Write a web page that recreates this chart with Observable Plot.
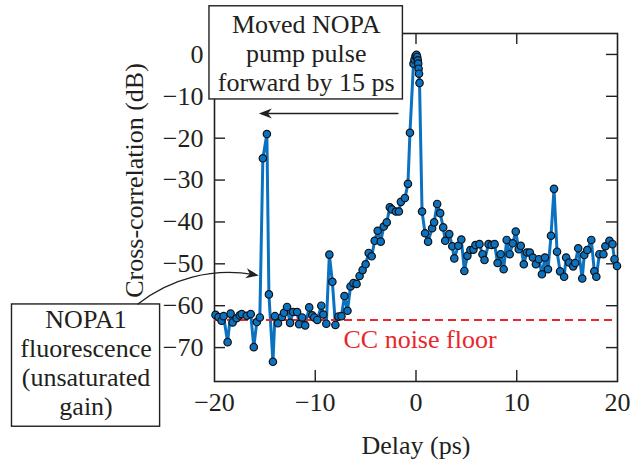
<!DOCTYPE html>
<html><head><meta charset="utf-8">
<script src="https://cdn.jsdelivr.net/npm/d3@7"></script>
<script src="https://cdn.jsdelivr.net/npm/@observablehq/plot@0.6"></script>
<style>body{margin:0;background:#fff} svg{display:block}</style>
</head><body><div id="chart"></div>
<script>
// ---- data ----
const delay = [
  -19.9,-19.6,-19.3,-19.1,-18.7,-18.4,-18.2,-17.8,-17.5,-17.3,-16.8,-16.4,-16.1,-15.8,-15.5,
  -15.2,-14.8,-14.6,-14.2,-14.0,-13.7,-13.3,-13.1,-12.8,-12.5,-12.2,-11.8,-11.6,-11.3,-11.0,
  -10.6,-10.3,-10.1,-9.8,-9.4,-9.2,-8.9,-8.6,-8.3,-8.0,-7.7,-7.4,-7.1,-6.8,-6.5,-6.2,-5.9,
  -5.6,-5.3,-5.0,-4.7,-4.4,-4.1,-3.8,-3.5,-3.2,-2.9,-2.6,-2.4,-2.0,-1.7,-1.5,-1.1,-0.8,-0.6,
  -0.25,-0.15,-0.05,0.05,0.12,0.18,0.22,0.26,0.3,0.35,
  0.6,0.9,1.2,1.6,1.8,2.1,2.4,2.7,2.9,3.3,3.6,3.8,4.2,4.5,4.8,5.1,5.4,5.7,5.9,6.3,6.6,6.8,
  7.2,7.5,7.8,8.1,8.4,8.7,9.0,9.3,9.6,9.9,10.2,10.4,10.7,11.0,11.3,11.6,11.9,12.2,12.5,12.8,
  13.1,13.4,13.7,14.0,14.3,14.7,14.9,15.2,15.6,15.8,16.1,16.5,16.7,17.0,17.4,17.7,17.9,18.2,
  18.6,18.8,19.2,19.5,19.7,19.95
];
const crossCorr = [
  -62.2,-62.7,-63.6,-62.5,-68.7,-61.9,-64.0,-63.0,-62.3,-62.0,-62.4,-62.0,-69.9,-63.9,-62.8,
  -24.8,-19.0,-57.3,-73.4,-62.5,-64.2,-62.7,-61.7,-60.3,-64.1,-61.5,-61.5,-64.4,-62.8,-64.7,
  -60.4,-62.3,-62.8,-63.4,-60.0,-62.1,-64.3,-47.8,-54.3,-64.6,-62.6,-62.5,-57.7,-61.2,-55.4,-54.6,-54.8,
  -52.9,-51.5,-50.1,-47.4,-48.2,-44.5,-42.1,-44.7,-41.1,-40.1,-36.5,-37.0,-37.5,-37.5,-35.2,-34.3,-30.9,-18.7,
  -2.2,-1.2,-0.4,-0.1,-0.6,-1.4,-2.2,-3.4,-4.6,-6.8,
  -37.5,-42.7,-44.7,-41.5,-40.1,-35.7,-37.9,-41.3,-44.5,-42.9,-45.8,-48.7,-45.7,-44.2,-51.7,-48.1,-46.7,-46.6,-45.5,-45.3,-47.7,-49.1,
  -45.3,-45.5,-45.3,-49.8,-47.7,-51.3,-44.3,-47.7,-45.1,-42.3,-46.5,-45.7,-50.1,-47.3,-47.3,-48.5,-50.1,-48.9,-52.5,-48.5,
  -51.3,-43.3,-32.1,-47.1,-51.8,-53.1,-48.5,-49.7,-50.6,-49.8,-46.3,-53.5,-47.9,-46.7,-44.3,-51.8,-53.1,-47.7,
  -47.7,-45.8,-44.5,-45.3,-48.9,-50.5
];
const noiseFloor = [-63.4];
const xTickValues = [-20, -10, 0, 10, 20];
const xInnerTicks = [-10, 0, 10];
const yTickValues = [-70, -60, -50, -40, -30, -20, -10, 0];
const xLabel = "Delay (ps)";
const yLabel = "Cross-correlation (dB)";
const noiseLabel = ["CC noise floor"];
const noteMoved = ["Moved NOPA", "pump pulse", "forward by 15 ps"];
const noteFluor = ["NOPA1", "fluorescence", "(unsaturated", "gain)"];

// ---- annotation anchors (data units) ----
const movedBox = [{x1: -20.5, x2: -1.3, y1: 11.5, y2: -10.75}];
const movedText = [{x: -10.9, y: 0.5, t: noteMoved.join("\n")}];
const movedArrow = [{x1: -1.8, y1: -14.1, x2: -15.6, y2: -14.1}];
const fluorBox = [{x1: -40.1, x2: -25.4, y1: -59.7, y2: -88.9}];
const fluorText = [{x: -32.75, y: -73.6, t: noteFluor.join("\n")}];
const fluorArrow = [{x1: -27.6, y1: -59.6, x2: -15.6, y2: -52.8}];
const noiseText = [{x: -7.2, y: -70.2, t: noiseLabel[0]}];

const data = delay.map((d, i) => ({delay: d, db: crossCorr[i]}));
const F = "'Liberation Serif', 'Times New Roman', serif";
const ink = "#231f20";
const blue = "#0a72c0";
const red = "#e8262c";
const fmt = d => d < 0 ? "\u2212" + Math.abs(d) : String(d);

// stealth-like arrowhead symbol, tip at the point, pointing left
const stealth = {
  draw(ctx, size) {
    const r = Math.sqrt(size / Math.PI);
    const L = 2.6 * r, W = 1.0 * r;
    ctx.moveTo(0, 0);
    ctx.lineTo(L, -W);
    ctx.lineTo(0.7 * L, 0);
    ctx.lineTo(L, W);
    ctx.closePath();
  }
};

const chart = Plot.plot({
  width: 642, height: 461,
  marginLeft: 214, marginRight: 25, marginTop: 33, marginBottom: 80,
  x: {domain: [-20, 20]},
  y: {domain: [-78.1, 5]},
  style: {fontFamily: F, fontSize: "26px", color: ink, background: "#fff", overflow: "visible"},
  marks: [
    Plot.axisX(xTickValues, {tickSize: 0, tickPadding: 11, label: null, tickFormat: fmt, fontSize: 26, fill: ink}),
    Plot.axisY(yTickValues, {tickSize: 0, tickPadding: 11, label: null, tickFormat: fmt, fontSize: 26, fill: ink}),
    Plot.ruleX(xInnerTicks, {x: d => d, insetTop: 337, stroke: ink, strokeWidth: 1.4}),
    Plot.ruleX(xInnerTicks, {x: d => d, insetBottom: 337, stroke: ink, strokeWidth: 1.4}),
    Plot.ruleY(yTickValues, {y: d => d, insetRight: 392, stroke: ink, strokeWidth: 1.4}),
    Plot.ruleY(yTickValues, {y: d => d, insetLeft: 392, stroke: ink, strokeWidth: 1.4}),
    Plot.frame({stroke: ink, strokeWidth: 1.6}),
    Plot.line(data, {x: "delay", y: "db", stroke: blue, strokeWidth: 3}),
    Plot.ruleY(noiseFloor, {y: d => d, stroke: red, strokeWidth: 2, strokeDasharray: "8,5"}),
    Plot.dot(data, {x: "delay", y: "db", r: 3.7, fill: blue, stroke: "#111", strokeWidth: 1.2}),
    Plot.text(noiseText, {x: "x", y: "y", text: "t", textAnchor: "start", lineAnchor: "bottom", fill: red, fontSize: 26}),
    Plot.rect(movedBox, {x1: "x1", x2: "x2", y1: "y1", y2: "y2", fill: "#fff", stroke: ink, strokeWidth: 1.4}),
    Plot.text(movedText, {x: "x", y: "y", text: "t", lineAnchor: "middle", lineHeight: 1.115, fill: ink, fontSize: 26}),
    Plot.arrow(movedArrow, {x1: "x1", y1: "y1", x2: "x2", y2: "y2", stroke: ink, strokeWidth: 1.5, headLength: 0, insetEnd: 6}),
    Plot.dot(movedArrow, {x: "x2", y: "y2", symbol: stealth, r: 5, fill: ink, stroke: "none"}),
    Plot.rect(fluorBox, {x1: "x1", x2: "x2", y1: "y1", y2: "y2", fill: "#fff", stroke: ink, strokeWidth: 1.4}),
    Plot.text(fluorText, {x: "x", y: "y", text: "t", lineAnchor: "middle", lineHeight: 1.115, fill: ink, fontSize: 26}),
    Plot.arrow(fluorArrow, {x1: "x1", y1: "y1", x2: "x2", y2: "y2", bend: 25, stroke: ink, strokeWidth: 1.3, headLength: 0, insetEnd: 6}),
    Plot.dot(fluorArrow, {x: "x2", y: "y2", symbol: stealth, r: 5, rotate: 190, fill: ink, stroke: "none"}),
    Plot.text([xLabel], {frameAnchor: "bottom", dy: 72, lineAnchor: "bottom", textAnchor: "middle", fill: ink, fontSize: 26}),
    Plot.text([yLabel], {frameAnchor: "left", rotate: -90, dx: -72, dy: -27, lineAnchor: "bottom", textAnchor: "middle", fill: ink, fontSize: 26})
  ]
});
document.getElementById("chart").appendChild(chart);
</script>
</body></html>
